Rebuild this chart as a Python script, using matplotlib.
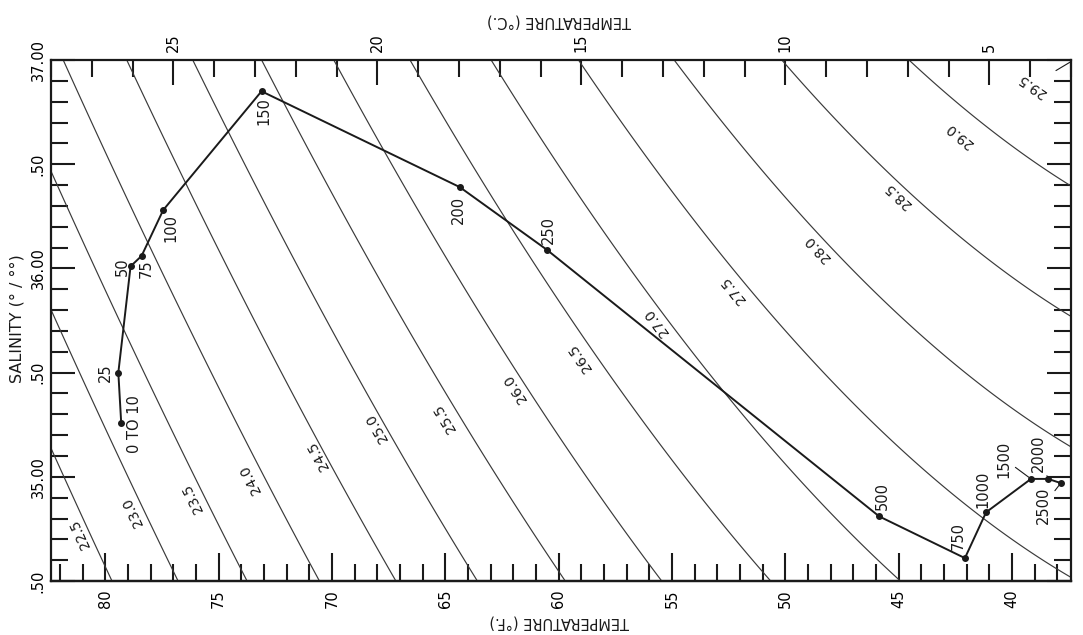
import numpy as np
import matplotlib
matplotlib.use("Agg")
import matplotlib.pyplot as plt
from matplotlib.ticker import MultipleLocator, FixedLocator, FuncFormatter

# temperature / salinity profile, labelled by depth (m)
depth_labels = ['0 TO 10', '25', '50', '75', '100', '150', '200', '250',
                '500', '750', '1000', '1500', '2000', '2500']
temp_c = [26.28, 26.35, 26.05, 25.78, 25.25, 22.84, 17.98, 15.85,
          7.70, 5.60, 5.08, 3.98, 3.56, 3.25]
salinity = [35.26, 35.50, 36.01, 36.06, 36.28, 36.85, 36.39, 36.09,
            34.81, 34.61, 34.83, 34.99, 34.99, 34.97]

# sigma-t isopleths
sigma_levels = [22.5, 23.0, 23.5, 24.0, 24.5, 25.0, 25.5, 26.0,
                26.5, 27.0, 27.5, 28.0, 28.5, 29.0, 29.5]

# tick values
celsius_ticks = [5, 10, 15, 20, 25]
fahrenheit_ticks = [40, 45, 50, 55, 60, 65, 70, 75, 80]
salinity_ticks = [34.5, 35.0, 35.5, 36.0, 36.5, 37.0]

# label layout: depth label offsets (pixels) and isopleth label spots (degC, salinity)
depth_offsets = [(13, -1), (-13, 0), (-8, 0), (5, -13), (8, -18), (2, -20),
                 (-1, -23), (2, 20), (3, 20), (-7, 22), (-3, 23),
                 (-27, 20), (-10, 26), (-17, -22)]
depth_leader = [False] * 11 + [True, True, True]
sigma_label_pos = [(27.29, 34.725), (25.99, 34.831), (24.52, 34.898),
                   (23.12, 34.989), (21.46, 35.105), (20.01, 35.234),
                   (18.34, 35.282), (16.63, 35.426), (15.03, 35.570),
                   (13.15, 35.743), (11.28, 35.896), (9.20, 36.098),
                   (7.24, 36.352), (5.72, 36.640), (3.96, 36.880)]

INK = '#1a1a1a'
plt.rcParams['font.family'] = ['DejaVu Sans']


def sigma_t(t, s):
    # UNESCO 1980 density at the surface, minus 1000
    rho_w = (999.842594 + 6.793952e-2 * t - 9.095290e-3 * t**2
             + 1.001685e-4 * t**3 - 1.120083e-6 * t**4 + 6.536332e-9 * t**5)
    a = (8.24493e-1 - 4.0899e-3 * t + 7.6438e-5 * t**2
         - 8.2467e-7 * t**3 + 5.3875e-9 * t**4)
    b = -5.72466e-3 + 1.0227e-4 * t - 1.6546e-6 * t**2
    c = 4.8314e-4
    return rho_w + a * s + b * s**1.5 + c * s**2 - 1000.0


def c2f(c):
    return c * 9.0 / 5.0 + 32.0


def f2c(f):
    return (f - 32.0) * 5.0 / 9.0


fig = plt.figure(figsize=(10.83, 6.35), dpi=100)
ax = fig.add_axes([0.0471, 0.0850, 0.9418, 0.8205])
ax.set_xlim(28, 3)
ax.set_ylim(34.5, 37.0)

# isopleth field
tt, ss = np.meshgrid(np.linspace(0, 31, 400), np.linspace(34.0, 37.5, 400))
ax.contour(tt, ss, sigma_t(tt, ss), levels=sigma_levels,
           colors='#3a3a3a', linewidths=0.85)


def label_angle(t, s):
    # direction of the isopleth through (t, s), read the "flipped" way
    eps = 1e-3
    gt = (sigma_t(t + eps, s) - sigma_t(t - eps, s)) / (2 * eps)
    gs = (sigma_t(t, s + eps) - sigma_t(t, s - eps)) / (2 * eps)
    p0 = ax.transData.transform((t, s))
    p1 = ax.transData.transform((t - gs * 0.01, s + gt * 0.01))
    ang = np.degrees(np.arctan2(p1[1] - p0[1], p1[0] - p0[0])) % 360
    if ang < 90 or ang >= 270:
        ang = (ang + 180) % 360
    return ang


for lev, (t_lab, s_lab) in zip(sigma_levels[:-1], sigma_label_pos[:-1]):
    ax.text(t_lab, s_lab, f'{lev:.1f}', rotation=label_angle(t_lab, s_lab),
            rotation_mode='anchor', ha='center', va='center', fontsize=10,
            color=INK, zorder=3)

# the last isopleth only clips the corner, so its label gets a leader
t29, s29 = sigma_label_pos[-1]
ax.annotate(f'{sigma_levels[-1]:.1f}', xy=(3.02, 36.99), xytext=(t29, s29),
            rotation=label_angle(t29, s29), rotation_mode='anchor',
            ha='center', va='center', fontsize=10, color=INK,
            arrowprops=dict(arrowstyle='-', color=INK, lw=0.8,
                            shrinkA=4, shrinkB=0))

# T-S curve
ax.plot(temp_c, salinity, color=INK, lw=1.4, marker='o', ms=4, zorder=4)
for lab, t, s, off, lead in zip(depth_labels, temp_c, salinity,
                                depth_offsets, depth_leader):
    kw = {}
    if lead:
        kw['arrowprops'] = dict(arrowstyle='-', color=INK, lw=0.8,
                                shrinkA=1, shrinkB=2)
    ax.annotate(lab, xy=(t, s), xytext=off, textcoords='offset pixels',
                rotation=90, ha='center', va='center', fontsize=10.5,
                color=INK, zorder=5, **kw)

# axes: Celsius on top, Fahrenheit on bottom, salinity left
for sp in ax.spines.values():
    sp.set_linewidth(1.6)
    sp.set_color(INK)

ax.xaxis.tick_top()
ax.xaxis.set_major_locator(FixedLocator(celsius_ticks))
ax.xaxis.set_minor_locator(MultipleLocator(1))
ax.xaxis.set_major_formatter(FuncFormatter(lambda v, p: f'{v:.0f}'))
ax.tick_params(axis='x', which='major', direction='in', length=18, width=1.5,
               top=True, bottom=False, labeltop=True, labelbottom=False,
               labelrotation=90, labelsize=10.5, pad=6, color=INK)
ax.tick_params(axis='x', which='minor', direction='in', length=12, width=1.5,
               top=True, bottom=False, color=INK)

ax.yaxis.set_major_locator(FixedLocator(salinity_ticks))
ax.yaxis.set_minor_locator(MultipleLocator(0.1))
ax.yaxis.set_major_formatter(FuncFormatter(
    lambda v, p: f'{v:.2f}' if abs(v - round(v)) < 1e-6 else '.50'))
ax.tick_params(axis='y', which='major', direction='in', length=17, width=1.5,
               left=True, right=True, labelrotation=90, labelsize=10.5,
               pad=4, color=INK)
ax.tick_params(axis='y', which='minor', direction='in', length=12, width=1.5,
               left=True, right=True, color=INK)
for lbl in ax.get_yticklabels():
    lbl.set_va('center')

sec = ax.secondary_xaxis('bottom', functions=(c2f, f2c))
sec.xaxis.set_major_locator(FixedLocator(fahrenheit_ticks))
sec.xaxis.set_minor_locator(FixedLocator(list(range(38, 83))))
sec.xaxis.set_major_formatter(FuncFormatter(lambda v, p: f'{v:.0f}'))
sec.tick_params(axis='x', which='major', direction='in', length=20, width=1.5,
                labelrotation=90, labelsize=10.5, pad=6, color=INK)
sec.tick_params(axis='x', which='minor', direction='in', length=12, width=1.5,
                color=INK)
sec.spines['bottom'].set_linewidth(1.6)

fig.text(0.516, 0.967, 'TEMPERATURE (°C.)', rotation=180, ha='center',
         va='center', fontsize=10.5, color=INK)
fig.text(0.516, 0.0205, 'TEMPERATURE (°F.)', rotation=180, ha='center',
         va='center', fontsize=10.5, color=INK)
fig.text(0.0157, 0.4976, 'SALINITY (° / °°)', rotation=90, ha='center',
         va='center', fontsize=11.5, color=INK)

fig.savefig('out.png', dpi=100, facecolor='white')
